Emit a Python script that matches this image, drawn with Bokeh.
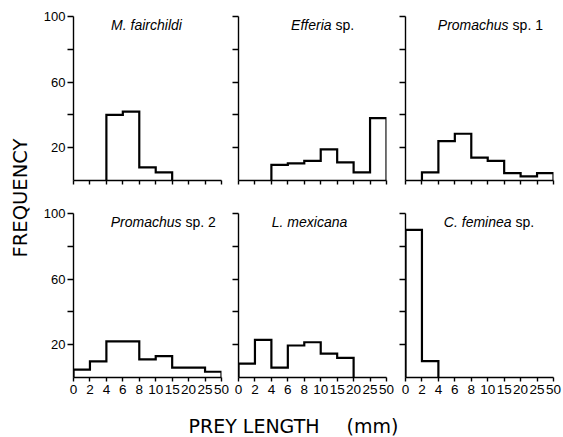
import math

from bokeh.core.properties import value
from bokeh.embed import file_html
from bokeh.layouts import column, row
from bokeh.models import FixedTicker, Range1d
from bokeh.plotting import figure
from bokeh.resources import INLINE

# Prey length classes (mm); each class is drawn with the same width
size_labels = ["0", "2", "4", "6", "8", "10", "15", "20", "25", "50"]

# Frequency of prey in each length class, per predator species
fairchildi = [0, 0, 40, 42, 8, 5, 0, 0, 0]
efferia = [0, 0, 9.5, 10.5, 12, 19, 11, 5, 38]
promachus1 = [0, 5, 24, 28.5, 14, 12, 4.5, 2.5, 4.5]
promachus2 = [4.8, 9.8, 22, 22, 11, 13, 6, 6, 3.5]
mexicana = [8.5, 23, 6, 19.5, 21.5, 14.5, 12, 0, 0]
feminea = [90, 10, 0, 0, 0, 0, 0, 0, 0]

freq_ticks = [20, 40, 60, 80, 100]
freq_labels = {20: "20", 40: "", 60: "60", 80: "", 100: "100"}

LABEL_FONT = "DejaVu Sans"
TICK_FONT = "Liberation Sans"
TITLE_FONT = "Liberation Sans"


def hide_labels(axis):
    axis.major_label_text_font_size = "0px"
    axis.major_label_text_color = None
    axis.major_label_standoff = 0


def panel(counts, name, suffix, title_x, left, right, top, bottom, x_labels, y_labels):
    n = len(counts)
    p = figure(output_backend="svg", toolbar_location=None,
               frame_width=148, frame_height=164,
               x_range=Range1d(0, n), y_range=Range1d(0, 100),
               min_border_left=left, min_border_right=right,
               min_border_top=top, min_border_bottom=bottom)
    p.outline_line_color = None
    p.grid.visible = False

    for ax in (p.xaxis[0], p.yaxis[0]):
        ax.axis_line_color = "black"
        ax.axis_line_width = 1.4
        ax.major_tick_line_color = "black"
        ax.major_tick_line_width = 1.4
        ax.major_tick_in = 0
        ax.minor_tick_line_color = None

    xa = p.xaxis[0]
    xa.ticker = FixedTicker(ticks=list(range(n + 1)))
    xa.major_tick_out = 4
    if x_labels:
        xa.major_label_overrides = {i: s for i, s in enumerate(size_labels)}
        xa.major_label_text_font = TICK_FONT
        xa.major_label_text_font_size = "13.5px"
        xa.major_label_text_color = "black"
        xa.major_label_standoff = 3
    else:
        hide_labels(xa)

    ya = p.yaxis[0]
    ya.ticker = FixedTicker(ticks=freq_ticks)
    ya.major_tick_out = 6
    if y_labels:
        ya.major_label_overrides = dict(freq_labels)
        ya.major_label_text_font = TICK_FONT
        ya.major_label_text_font_size = "13px"
        ya.major_label_text_color = "black"
        ya.major_label_standoff = 2
    else:
        hide_labels(ya)

    # histogram outline, from the first to the last non-empty class
    filled = [i for i, v in enumerate(counts) if v > 0]
    a, b = filled[0], filled[-1] + 1
    xs, ys = [a], [0]
    for i in range(a, b):
        xs += [i, i + 1]
        ys += [counts[i], counts[i]]
    xs.append(b)
    ys.append(0)
    p.line(xs, ys, line_color="black", line_width=2.2, line_join="miter")

    # species name: italic genus/species, upright "sp." part
    if suffix:
        p.text(x=[title_x], y=[100], text=[name], text_font=value(TITLE_FONT),
               text_font_style="italic", text_font_size="14px", text_color="black",
               text_align="right", text_baseline="top")
        p.text(x=[title_x], y=[100], text=[suffix], text_font=value(TITLE_FONT),
               text_font_size="14px", text_color="black", x_offset=4,
               text_align="left", text_baseline="top")
    else:
        p.text(x=[title_x], y=[100], text=[name], text_font=value(TITLE_FONT),
               text_font_style="italic", text_font_size="14px", text_color="black",
               text_align="center", text_baseline="top")
    return p


top_row = row(
    panel(fairchildi, "M. fairchildi", None, 4.44, 41, 8, 16, 17, False, True),
    panel(efferia, "Efferia", "sp.", 5.66, 9, 9, 16, 17, False, False),
    panel(promachus1, "Promachus", "sp. 1", 6.27, 10, 10, 16, 17, False, False),
)
bottom_row = row(
    panel(promachus2, "Promachus", "sp. 2", 6.57, 41, 8, 16, 25, True, True),
    panel(mexicana, "L. mexicana", None, 4.32, 9, 9, 16, 25, True, False),
    panel(feminea, "C. feminea", "sp.", 6.45, 10, 10, 16, 25, True, False),
)


def blank(w, h):
    f = figure(output_backend="svg", toolbar_location=None,
               frame_width=w, frame_height=h,
               x_range=Range1d(0, w), y_range=Range1d(0, h),
               min_border=0, x_axis_location=None, y_axis_location=None)
    f.outline_line_color = None
    f.grid.visible = False
    return f


ylab = blank(32, 402)
ylab.text(x=[20], y=[204.5], text=["FREQUENCY"], angle=math.pi / 2,
          text_font=value(LABEL_FONT), text_font_size="19.5px", text_color="black",
          text_align="center", text_baseline="middle")

xlab = blank(563, 35)
xlab.text(x=[188], y=[11.5], text=["PREY LENGTH"], text_font=value(LABEL_FONT),
          text_font_size="19px", text_color="black",
          text_align="left", text_baseline="middle")
xlab.text(x=[346], y=[11.5], text=["(mm)"], text_font=value(LABEL_FONT),
          text_font_size="19px", text_color="black",
          text_align="left", text_baseline="middle")

layout = column(row(ylab, column(top_row, bottom_row)), xlab)

with open("out.html", "w") as fh:
    fh.write(file_html(layout, INLINE))
